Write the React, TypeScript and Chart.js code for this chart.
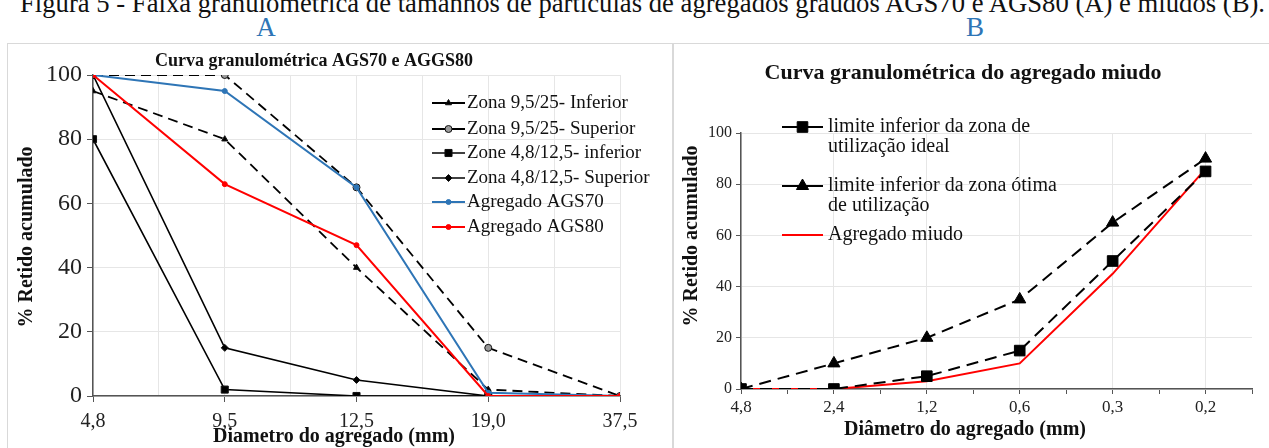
import React, { useEffect, useRef } from 'react';
import { Chart, registerables } from 'chart.js';
import { drawPoint } from 'chart.js/helpers';

Chart.register(...registerables);

// ---------- text ----------
const CAPTION = 'Figura 5 - Faixa granulométrica de tamanhos de partículas de agregados graúdos AGS70 e AGS80 (A) e miúdos (B).';
const PANEL_A = 'A';
const PANEL_B = 'B';
const TITLE_A = 'Curva granulométrica AGS70 e AGGS80';
const TITLE_B = 'Curva granulométrica do agregado miudo';
const X_TITLE_A = 'Diametro do agregado (mm)';
const X_TITLE_B = 'Diâmetro do agregado (mm)';
const Y_TITLE = '% Retido acumulado';

// ---------- data: chart A ----------
const SIEVES_A = ['4,8', '9,5', '12,5', '19,0', '37,5'];
const ZONA_95_INF = [95, 80, 40, 2, 0];
const ZONA_95_SUP = [100, 100, 65, 15, 0];
const ZONE_48_INF = [80, 2, 0, 0, null];
const ZONA_48_SUP = [100, 15, 5, 0, null];
const AGS70 = [100, 95, 65, 1, 0];
const AGS80 = [100, 66, 47, 0, 0];

// ---------- data: chart B ----------
const SIEVES_B = ['4,8', '2,4', '1,2', '0,6', '0,3', '0,2'];
const LIM_IDEAL = [0, 0, 5, 15, 50, 85];
const LIM_OTIMA = [0, 10, 20, 35, 65, 90];
const MIUDO = [0, 0, 3, 10, 45, 86];

const FAMILY = '"Liberation Serif", "Times New Roman", serif';
const GRID = '#e6e6e6';
const AXIS = '#555555';
const CLEAR = 'rgba(0,0,0,0)';

const xy = (arr: (number | null)[]) => arr.map((y, i) => ({ x: i, y }));
const isInt = (v: any) => typeof v === 'number' && Math.abs(v - Math.round(v)) < 1e-9;

function wrapText(ctx: CanvasRenderingContext2D, text: string, maxWidth?: number): string[] {
  if (!maxWidth) return [text];
  const words = text.split(' ');
  const lines: string[] = [];
  let cur = '';
  for (const w of words) {
    const test = cur ? cur + ' ' + w : w;
    if (cur && ctx.measureText(test).width > maxWidth) {
      lines.push(cur);
      cur = w;
    } else cur = test;
  }
  if (cur) lines.push(cur);
  return lines;
}

const boxLegend = {
  id: 'boxLegend',
  afterDraw(chart: any, _args: any, o: any) {
    const ctx: CanvasRenderingContext2D = chart.ctx;
    ctx.save();
    ctx.font = o.font;
    ctx.textBaseline = 'middle';
    ctx.textAlign = 'left';
    chart.data.datasets.forEach((ds: any, i: number) => {
      const y = o.ys[i];
      ctx.setLineDash([]);
      ctx.strokeStyle = ds.borderColor;
      ctx.lineWidth = ds.borderWidth;
      ctx.beginPath();
      ctx.moveTo(o.x1, y);
      ctx.lineTo(o.x2, y);
      ctx.stroke();
      if (ds.pointRadius > 0) {
        ctx.fillStyle = ds.pointBackgroundColor;
        ctx.strokeStyle = ds.pointBorderColor;
        ctx.lineWidth = ds.pointBorderWidth;
        drawPoint(ctx, { pointStyle: ds.pointStyle, radius: ds.pointRadius, borderWidth: ds.pointBorderWidth, rotation: 0 } as any, (o.x1 + o.x2) / 2, y);
      }
      ctx.fillStyle = '#111';
      const lines = wrapText(ctx, ds.label, o.maxWidth);
      lines.forEach((ln, k) => ctx.fillText(ln, o.textX, y + k * o.lineGap));
    });
    ctx.restore();
  },
};

const axisTitles = {
  id: 'axisTitles',
  afterDraw(chart: any, _args: any, o: any) {
    const ctx: CanvasRenderingContext2D = chart.ctx;
    ctx.save();
    ctx.font = o.font;
    ctx.fillStyle = '#111';
    ctx.textAlign = 'center';
    ctx.textBaseline = 'middle';
    ctx.fillText(o.xText, o.xCx, o.xCy);
    ctx.translate(o.yCx, o.yCy);
    ctx.rotate(-Math.PI / 2);
    ctx.fillText(o.yText, 0, 0);
    ctx.restore();
  },
};

function configA(): any {
  const black = (label: string, data: (number | null)[], dashed: boolean, style: string, r: number, fill: string, order: number) => ({
    label,
    data: xy(data),
    borderColor: '#000',
    borderWidth: dashed ? 1.8 : 1.6,
    borderDash: dashed ? [10, 6] : [],
    pointStyle: style,
    pointRadius: r,
    pointBackgroundColor: fill,
    pointBorderColor: '#111',
    pointBorderWidth: 1,
    order,
  });
  return {
    type: 'line',
    data: {
      datasets: [
        black('Zona 9,5/25- Inferior', ZONA_95_INF, true, 'triangle', 3.5, '#000', 6),
        black('Zona 9,5/25- Superior', ZONA_95_SUP, true, 'circle', 3.5, '#9a9a9a', 5),
        black('Zone 4,8/12,5- inferior', ZONE_48_INF, false, 'rect', 5, '#000', 4),
        black('Zona 4,8/12,5- Superior', ZONA_48_SUP, false, 'rectRot', 3.5, '#000', 3),
        {
          label: 'Agregado AGS70', data: xy(AGS70), borderColor: '#2e75b6', borderWidth: 2,
          pointStyle: 'circle', pointRadius: 2.5, pointBackgroundColor: '#2e75b6', pointBorderColor: '#2e75b6', pointBorderWidth: 1, order: 2,
        },
        {
          label: 'Agregado AGS80', data: xy(AGS80), borderColor: '#ff0000', borderWidth: 2,
          pointStyle: 'circle', pointRadius: 2.5, pointBackgroundColor: '#ff0000', pointBorderColor: '#ff0000', pointBorderWidth: 1, order: 1,
        },
      ],
    },
    options: {
      responsive: false,
      animation: false,
      layout: { padding: { left: 0, right: 52, top: 0, bottom: 0 } },
      elements: { line: { tension: 0 } },
      plugins: {
        legend: { display: false },
        tooltip: { enabled: false },
        title: {
          display: true, text: TITLE_A, color: '#111',
          font: { family: FAMILY, size: 18, weight: 'bold', lineHeight: 1.2 },
          padding: { top: 7, bottom: 2.4 },
        },
        boxLegend: { font: `19px ${FAMILY}`, x1: 424, x2: 457, textX: 459, ys: [59, 85, 109, 134, 158, 183], lineGap: 19 },
        axisTitles: { font: `bold 20px ${FAMILY}`, xText: X_TITLE_A, xCx: 326, xCy: 393, yText: Y_TITLE, yCx: 19, yCy: 193 },
      },
      scales: {
        x: {
          type: 'linear', min: 0, max: SIEVES_A.length - 1,
          afterFit: (s: any) => { s.height = 52; },
          ticks: {
            stepSize: 0.5, autoSkip: false, maxRotation: 0, color: '#222', padding: 8,
            font: { family: FAMILY, size: 20 },
            callback: (v: any) => (isInt(v) ? SIEVES_A[Math.round(v)] : ''),
          },
          grid: { color: GRID, tickLength: 6, tickColor: (c: any) => (c.tick && isInt(c.tick.value) ? AXIS : CLEAR) },
          border: { color: AXIS, width: 1.5 },
        },
        y: {
          min: 0, max: 100,
          afterFit: (s: any) => { s.width = 85; },
          ticks: { stepSize: 20, color: '#222', padding: 5, font: { family: FAMILY, size: 24 } },
          grid: { color: GRID, tickLength: 6, tickColor: AXIS },
          border: { color: AXIS, width: 1.5 },
        },
      },
    },
    plugins: [boxLegend, axisTitles],
  };
}

function configB(): any {
  const dashed = (label: string, data: number[], style: string, r: number) => ({
    label,
    data: xy(data),
    borderColor: '#000',
    borderWidth: 2,
    borderDash: [12, 7],
    pointStyle: style,
    pointRadius: r,
    pointBackgroundColor: '#000',
    pointBorderColor: '#000',
    pointBorderWidth: 1,
  });
  return {
    type: 'line',
    data: {
      datasets: [
        dashed('limite inferior da zona de utilização ideal', LIM_IDEAL, 'rect', 7.5),
        dashed('limite inferior da zona ótima de utilização', LIM_OTIMA, 'triangle', 7),
        {
          label: 'Agregado miudo', data: xy(MIUDO), borderColor: '#ff0000', borderWidth: 2,
          pointStyle: 'circle', pointRadius: 0, pointBackgroundColor: '#ff0000', pointBorderColor: '#ff0000', pointBorderWidth: 0,
        },
      ],
    },
    options: {
      responsive: false,
      animation: false,
      layout: { padding: { left: 0, right: 17, top: 0, bottom: 0 } },
      elements: { line: { tension: 0 } },
      plugins: {
        legend: { display: false },
        tooltip: { enabled: false },
        title: {
          display: true, text: TITLE_B, color: '#111',
          font: { family: FAMILY, size: 22, weight: 'bold', lineHeight: 1.2 },
          padding: { top: 15.8, bottom: 46.8 },
        },
        boxLegend: { font: `20px ${FAMILY}`, x1: 108, x2: 149, textX: 154, ys: [83, 142, 191], lineGap: 20, maxWidth: 235 },
        axisTitles: { font: `bold 20px ${FAMILY}`, xText: X_TITLE_B, xCx: 291, xCy: 386, yText: Y_TITLE, yCx: 18, yCy: 192 },
      },
      scales: {
        x: {
          type: 'linear', min: 0, max: SIEVES_B.length - 0.5,
          afterFit: (s: any) => { s.height = 59; },
          ticks: {
            stepSize: 0.5, autoSkip: false, maxRotation: 0, color: '#222', padding: 3,
            font: { family: FAMILY, size: 17 },
            callback: (v: any) => (isInt(v) ? SIEVES_B[Math.round(v)] ?? '' : ''),
          },
          grid: { color: (c: any) => (c.tick && isInt(c.tick.value) ? GRID : CLEAR), tickLength: 5, tickColor: AXIS },
          border: { color: AXIS, width: 1.5 },
        },
        y: {
          min: 0, max: 100,
          afterFit: (s: any) => { s.width = 67; },
          ticks: { stepSize: 20, color: '#222', padding: 4, font: { family: FAMILY, size: 16 } },
          grid: { color: GRID, tickLength: 5, tickColor: AXIS },
          border: { color: AXIS, width: 1.5 },
        },
      },
    },
    plugins: [boxLegend, axisTitles],
  };
}

export default function App() {
  const aRef = useRef<HTMLCanvasElement>(null);
  const bRef = useRef<HTMLCanvasElement>(null);

  useEffect(() => {
    const ca = new Chart(aRef.current as HTMLCanvasElement, configA());
    const cb = new Chart(bRef.current as HTMLCanvasElement, configB());
    return () => {
      ca.destroy();
      cb.destroy();
    };
  }, []);

  return (
    <div style={{ position: 'fixed', left: 0, top: 0, width: 1269, height: 448, overflow: 'hidden', background: '#fff' }}>
      <svg width={1269} height={44} style={{ position: 'absolute', left: 0, top: 0 }}>
        <text x={20} y={11.5} fontSize={27} fontFamily={FAMILY} fill="#111" textLength={1245} lengthAdjust="spacingAndGlyphs">
          {CAPTION}
        </text>
        <text x={266} y={36} fontSize={27} fontFamily={FAMILY} fill="#2e75b6" textAnchor="middle">{PANEL_A}</text>
        <text x={975} y={36} fontSize={27} fontFamily={FAMILY} fill="#2e75b6" textAnchor="middle">{PANEL_B}</text>
      </svg>
      <div style={{ position: 'absolute', left: 7, top: 43, width: 664, height: 420, border: '1px solid #d9d9d9' }}>
        <canvas ref={aRef} width={664} height={404} style={{ display: 'block', width: 664, height: 404 }} />
      </div>
      <div style={{ position: 'absolute', left: 673, top: 43, width: 600, height: 420, border: '1px solid #d9d9d9' }}>
        <canvas ref={bRef} width={595} height={404} style={{ display: 'block', width: 595, height: 404 }} />
      </div>
    </div>
  );
}
